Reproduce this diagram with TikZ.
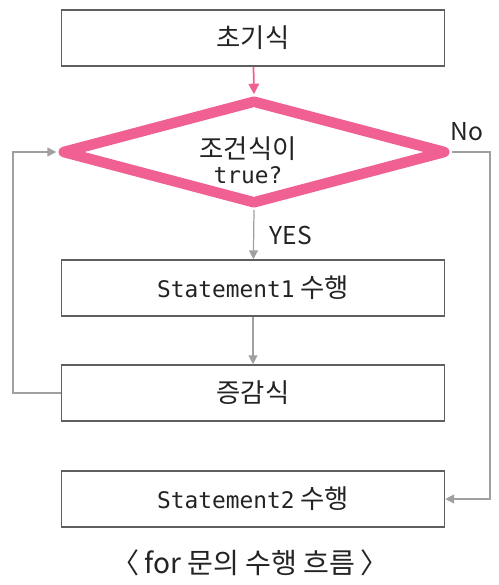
\documentclass[tikz,border=0pt]{standalone}
\usepackage{fontspec}
\setmainfont{Noto Sans CJK KR}
\newfontfamily\codefont{DejaVu Sans Mono}
\usetikzlibrary{shapes.geometric,arrows.meta}
\definecolor{flowpink}{RGB}{240,96,146}
\definecolor{linegray}{RGB}{160,160,160}
\definecolor{boxgray}{RGB}{95,95,95}
\definecolor{txtgray}{RGB}{35,35,35}
\tikzset{
  stepbox/.style = {draw=boxgray, line width=0.9pt, minimum width=7.66cm,
                    minimum height=1.12cm, inner sep=0pt, text=txtgray,
                    font=\fontsize{15}{17}\selectfont},
  flow/.style    = {draw=linegray, line width=0.7pt},
  lbl/.style     = {text=txtgray, font=\fontsize{14}{16}\selectfont},
}
\newcommand\codetext[1]{{\codefont\fontsize{13}{15}\selectfont #1}}
\begin{document}
\begin{tikzpicture}[x=0.02cm, y=-0.02cm, >={Triangle[length=5pt,width=5pt]}]
  \useasboundingbox (0,0) rectangle (498,585);
  \node[stepbox] (init) at (253, 38) {초기식};
  \node[draw=flowpink, line width=6pt, line join=round, shape=diamond,
        minimum width=7.7cm, minimum height=2.1cm, inner sep=0pt] (cond) at (254, 152) {};
  \node[align=center, text=txtgray, font=\fontsize{15}{17}\selectfont] (condtext) at (248, 160)
       {조건식이\\[-3pt]\codetext{true?}};
  \node[stepbox] (stmt1) at (253, 288) {\codetext{Statement1} 수행};
  \node[stepbox] (incr) at (253, 393) {증감식};
  \node[stepbox] (stmt2) at (253, 499) {\codetext{Statement2} 수행};
  \node[lbl] (yes) at (291, 235) {YES};
  \node[lbl] (no) at (467, 132) {No};
  \node[text=txtgray, font=\fontsize{16}{18}\selectfont] (caption) at (250, 563) {〈\,for 문의 수행 흐름\,〉};

  \coordinate (loopleft) at (13, 393);
  \coordinate (loopright) at (490, 152);

  \draw[->, draw=flowpink, line width=1pt, >={Triangle[length=6pt,width=6pt]}] (init) to (cond.north);
  \draw[->, flow] (cond.south) to (stmt1);
  \draw[->, flow] (stmt1) to (incr);
  \draw[->, flow] (incr.west) -- (loopleft) |- (cond.west);
  \draw[->, flow] (cond.east) -- (loopright) |- (stmt2.east);
\end{tikzpicture}
\end{document}
